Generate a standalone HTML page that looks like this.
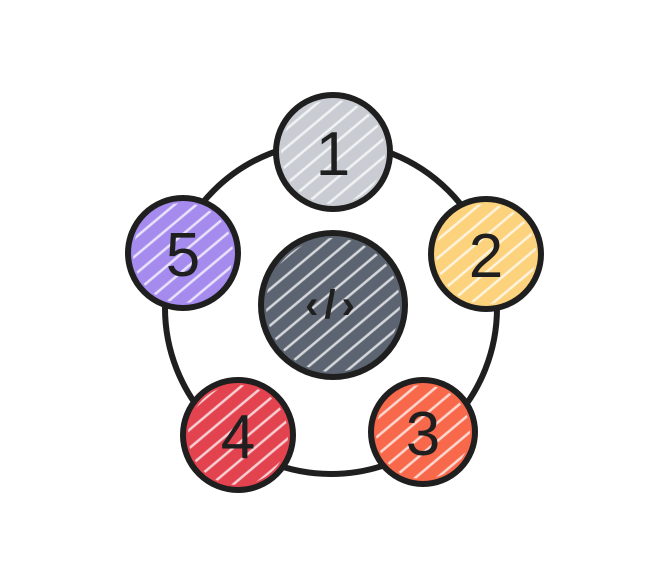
<!DOCTYPE html>
<html><head><style>html,body{margin:0;padding:0;background:#fff;width:664px;height:581px;overflow:hidden}</style></head>
<body>
<svg width="664" height="581" viewBox="0 0 664 581" xmlns="http://www.w3.org/2000/svg">
<defs>
<pattern id="h" width="14" height="14" patternUnits="userSpaceOnUse" patternTransform="rotate(-40)">
<rect width="14" height="14" fill="none"/>
<line x1="0" y1="3" x2="14" y2="3" stroke="#fff" stroke-width="2.5" opacity="0.75"/>
</pattern>
</defs>
<circle cx="331" cy="308" r="166" fill="none" stroke="#1f1f1f" stroke-width="6"/>
<g stroke="#1f1f1f" stroke-width="6">
<circle cx="333" cy="152" r="57" fill="#c9cdd3"/>
<circle cx="486" cy="254" r="55" fill="#fdd27c"/>
<circle cx="423" cy="432" r="52" fill="#f8694b"/>
<circle cx="238" cy="435" r="55" fill="#e2434f"/>
<circle cx="183" cy="253" r="55" fill="#a68bef"/>
<circle cx="333" cy="305" r="72" fill="#5b6470"/>
</g>
<g>
<circle cx="333" cy="152" r="52" fill="url(#h)"/>
<circle cx="486" cy="254" r="50" fill="url(#h)"/>
<circle cx="423" cy="432" r="47" fill="url(#h)"/>
<circle cx="238" cy="435" r="50" fill="url(#h)"/>
<circle cx="183" cy="253" r="50" fill="url(#h)"/>
<circle cx="333" cy="305" r="67" fill="url(#h)"/>
</g>
<g font-family="Liberation Sans, sans-serif" font-size="62" fill="#1f1f1f" text-anchor="middle">
<text x="333" y="175">1</text>
<text x="486" y="277">2</text>
<text x="423" y="455">3</text>
<text x="238" y="458">4</text>
<text x="183" y="276">5</text>
<text x="333" y="318" font-size="40" font-weight="bold" letter-spacing="6">‹/›</text>
</g>
</svg>
</body></html>
